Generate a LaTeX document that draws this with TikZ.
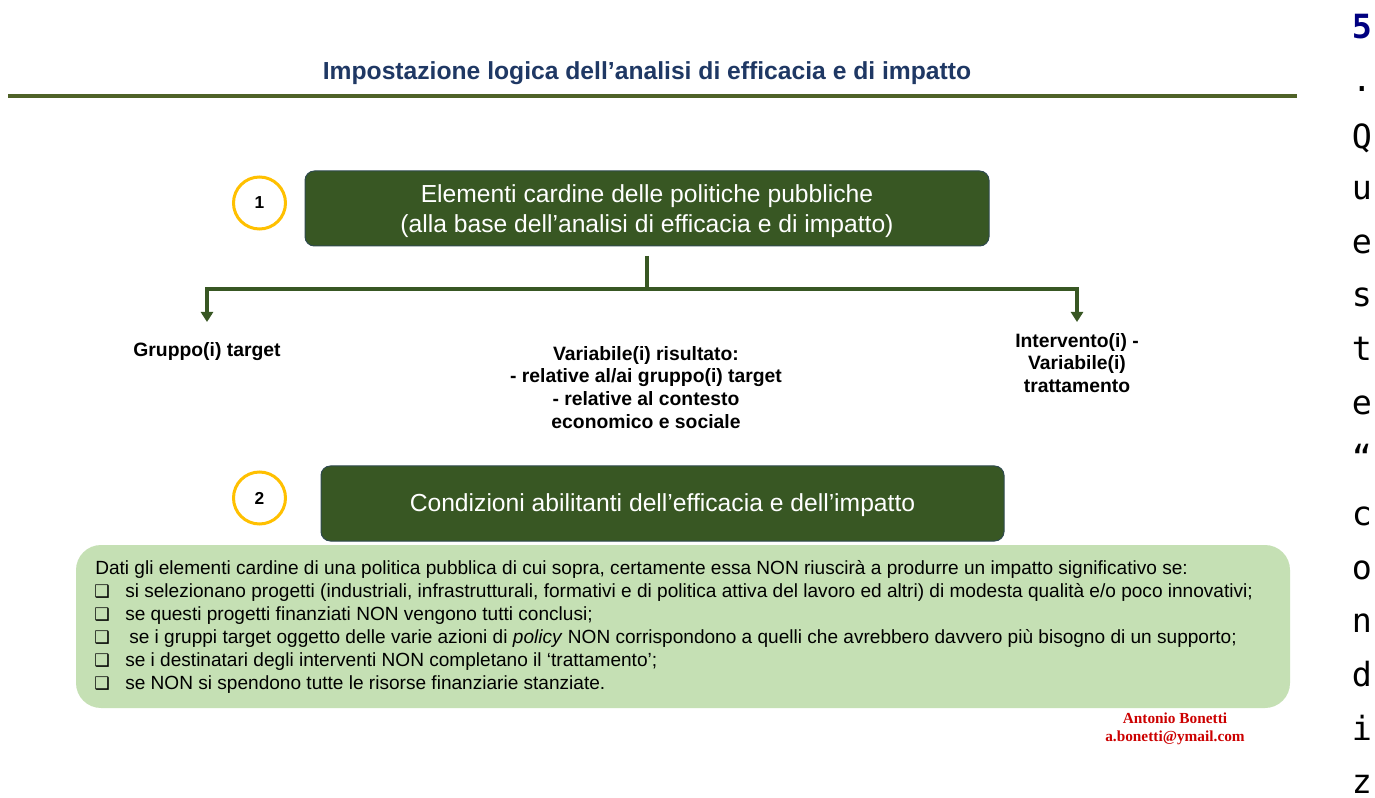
\documentclass[tikz,border=0pt]{standalone}
\usepackage{fontspec}
\setmainfont{Liberation Sans}
\newfontfamily\monofnt{DejaVu Sans Mono}
\newfontfamily\seriffnt{Liberation Serif}
\newfontfamily\symfnt{DejaVu Sans}
\usetikzlibrary{arrows.meta}
\definecolor{darkgreen}{HTML}{385723}
\definecolor{rulegreen}{HTML}{4F6228}
\definecolor{lightgreen}{HTML}{C5E0B4}
\definecolor{gold}{HTML}{FFC000}
\definecolor{titleblue}{HTML}{1F3864}
\definecolor{boxedge}{HTML}{2F4A4F}
\definecolor{authred}{HTML}{CC0000}
\definecolor{navy}{HTML}{000080}
\tikzset{
  darkbox/.style={draw=boxedge, line width=0.75pt, fill=darkgreen, rounded corners=7pt,
    text=white, align=center, inner sep=0pt,
    font=\fontsize{18.5pt}{23pt}\selectfont},
  boxtext/.style={text=white, align=center, inner sep=0pt,
    font=\fontsize{18.5pt}{23pt}\selectfont},
  numcirc/.style={circle, draw=gold, line width=2.25pt, minimum size=39pt, inner sep=0pt,
    font=\fontsize{13pt}{15pt}\selectfont\bfseries},
  conn/.style={draw=darkgreen, line width=3pt},
  connarrow/.style={conn, -{Triangle[width=9pt,length=7.5pt]}},
  lbl/.style={align=center, inner sep=0pt, font=\fontsize{14.5pt}{17pt}\selectfont\bfseries},
  bodyline/.style={anchor=base west, inner sep=0pt, font=\fontsize{14.3pt}{17pt}\selectfont},
  bullet/.style={anchor=base west, inner sep=0pt, font=\fontsize{13pt}{15pt}\symfnt},
  vchar/.style={anchor=base, inner sep=0pt, font=\fontsize{25pt}{28pt}\monofnt},
  author/.style={inner sep=0pt, text=authred, font=\fontsize{11.5pt}{13pt}\seriffnt\bfseries}
}
\begin{document}
\begin{tikzpicture}[x=0.75pt,y=-0.75pt]
\useasboundingbox[fill=white] (0,0) rectangle (1375,798);

% title and rule
\node[inner sep=0pt, anchor=base, text=titleblue, font=\fontsize{18.5pt}{21pt}\selectfont\bfseries] (title) at (647,80) {Impostazione logica dell’analisi di efficacia e di impatto};
\coordinate (ruleL) at (8,96);
\coordinate (ruleR) at (1297,96);
\draw[draw=rulegreen, line width=2.4pt] (ruleL) -- (ruleR);

% box 1
\node[darkbox, minimum width=513pt, minimum height=56.25pt] (box1) at (647,208.5) {};
\node[boxtext] (box1txt) at (647,211) {Elementi cardine delle politiche pubbliche\\(alla base dell’analisi di efficacia e di impatto)};
\node[numcirc] (c1) at (259.5,203) {1};

% connectors
\coordinate (jtop) at (647,256);
\coordinate (jmid) at (647,289);
\coordinate (aL) at (207,322);
\coordinate (aR) at (1077,322);
\draw[conn] (jtop) -- (jmid);
\draw[connarrow] (jmid) -| (aL);
\draw[connarrow] (jmid) -| (aR);

% labels
\node[lbl] (gruppo) at (207,352) {Gruppo(i) target};
\node[lbl, anchor=north] (variab) at (646,346) {Variabile(i) risultato:\\- relative al/ai gruppo(i) target\\- relative al contesto\\economico e sociale};
\node[lbl, anchor=north] (interv) at (1077,333) {Intervento(i) -\\Variabile(i)\\trattamento};

% box 2
\node[darkbox, minimum width=512.25pt, minimum height=56.25pt] (box2) at (662.5,503.5) {};
\node[boxtext] (box2txt) at (662.5,505) {Condizioni abilitanti dell’efficacia e dell’impatto};
\node[numcirc] (c2) at (259.5,498) {2};

% light green panel
\node[fill=lightgreen, rounded corners=18.75pt, minimum width=910.5pt, minimum height=122.25pt, inner sep=0pt] (panel) at (683,626.5) {};
\node[bodyline] (t1) at (95,574) {Dati gli elementi cardine di una politica pubblica di cui sopra, certamente essa NON riuscirà a produrre un impatto significativo se:};
\node[bullet] (b2) at (94,597) {❑};
\node[bodyline] (t2) at (125,597) {si selezionano progetti (industriali, infrastrutturali, formativi e di politica attiva del lavoro ed altri) di modesta qualità e/o poco innovativi;};
\node[bullet] (b3) at (94,620) {❑};
\node[bodyline] (t3) at (125,620) {se questi progetti finanziati NON vengono tutti conclusi;};
\node[bullet] (b4) at (94,643) {❑};
\node[bodyline] (t4) at (129,643) {se i gruppi target oggetto delle varie azioni di \textit{policy} NON corrispondono a quelli che avrebbero davvero più bisogno di un supporto;};
\node[bullet] (b5) at (94,666) {❑};
\node[bodyline] (t5) at (125,666) {se i destinatari degli interventi NON completano il ‘trattamento’;};
\node[bullet] (b6) at (94,689) {❑};
\node[bodyline] (t6) at (125,689) {se NON si spendono tutte le risorse finanziarie stanziate.};

% author
\node[author] (auth1) at (1175,718) {Antonio Bonetti};
\node[author] (auth2) at (1175,738) {a.bonetti@ymail.com};

% vertical text column
\node[vchar, text=navy, font=\fontsize{25pt}{28pt}\monofnt\bfseries] (v1) at (1362,39) {5};
\node[vchar] (v2) at (1362,92) {.};
\node[vchar] (v3) at (1362,149) {Q};
\node[vchar] (v4) at (1362,200) {u};
\node[vchar] (v5) at (1362,254) {e};
\node[vchar] (v6) at (1362,307) {s};
\node[vchar] (v7) at (1362,361) {t};
\node[vchar] (v8) at (1362,415) {e};
\node[vchar] (v9) at (1362,470) {“};
\node[vchar] (v10) at (1362,526) {c};
\node[vchar] (v11) at (1362,579) {o};
\node[vchar] (v12) at (1362,632) {n};
\node[vchar] (v13) at (1362,686) {d};
\node[vchar] (v14) at (1362,740) {i};
\node[vchar] (v15) at (1362,793) {z};
\end{tikzpicture}
\end{document}
